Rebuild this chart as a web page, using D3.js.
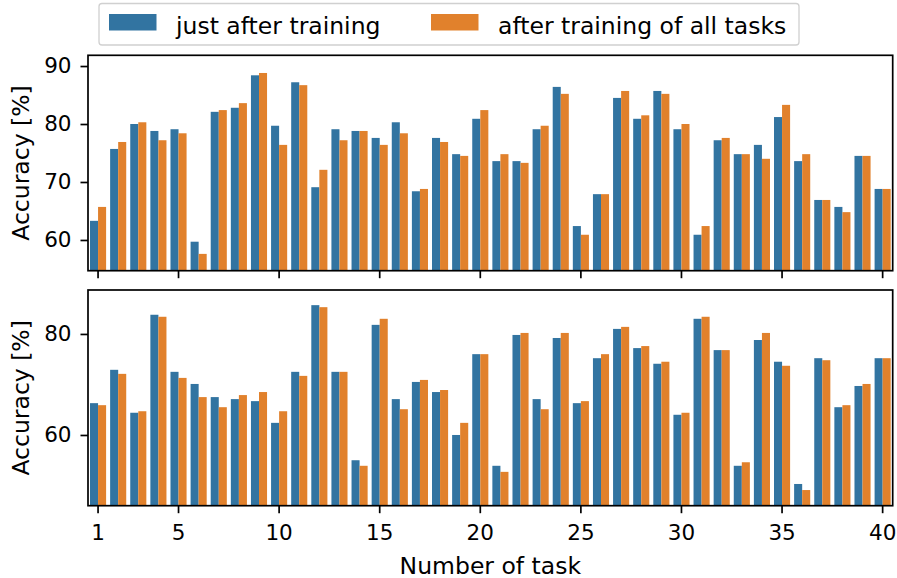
<!DOCTYPE html>
<html>
<head>
<meta charset="utf-8">
<script src="https://cdn.jsdelivr.net/npm/d3@7"></script>
<style>
  body { margin: 0; background: #fff; }
  svg { display: block; font-family: "DejaVu Sans", sans-serif; }
</style>
</head>
<body>
<script>
const width = 897
const height = 578

// task numbers
const tasks = [1,2,3,4,5,6,7,8,9,10,11,12,13,14,15,16,17,18,19,20,
  21,22,23,24,25,26,27,28,29,30,31,32,33,34,35,36,37,38,39,40]
const tickTasks = [1,5,10,15,20,25,30,35,40]
const series = ['just after training', 'after training of all tasks']
const colors = ['#3274a1', '#e1812c']

// upper panel
const topJust = [63.3,75.7,80.0,78.8,79.1,59.7,82.1,82.8,88.4,79.7,87.2,69.1,79.1,78.8,77.6,80.3,68.4,77.6,74.8,80.9,
  73.6,73.6,79.1,86.4,62.4,67.9,84.5,80.9,85.7,79.1,60.9,77.2,74.8,76.4,81.2,73.6,66.9,65.7,74.5,68.8]
const topAll = [65.7,76.9,80.3,77.2,78.4,57.6,82.4,83.6,88.8,76.4,86.7,72.1,77.2,78.8,76.4,78.4,68.8,76.9,74.5,82.4,
  74.8,73.3,79.7,85.2,60.9,67.9,85.7,81.5,85.2,80.0,62.4,77.6,74.8,74.0,83.3,74.8,66.9,64.8,74.5,68.8]
const topTicks = [60,70,80,90]

// lower panel
const botJust = [66.3,72.9,64.4,83.8,72.5,70.1,67.5,67.1,66.7,62.4,72.5,85.7,72.5,55.0,81.8,67.1,70.5,68.5,60.0,76.0,
  53.9,79.8,67.1,79.2,66.3,75.2,81.0,77.2,74.1,64.0,83.0,76.8,53.9,78.8,74.5,50.3,75.2,65.5,69.7,75.2]
const botAll = [65.9,72.1,64.7,83.4,71.3,67.5,65.5,67.9,68.5,64.7,71.7,85.3,72.5,53.9,83.0,65.1,70.9,68.9,62.4,76.0,
  52.7,80.2,65.1,80.2,66.7,76.0,81.4,77.6,74.5,64.4,83.4,76.8,54.6,80.2,73.7,49.1,74.8,65.9,70.1,75.2]
const botTicks = [60,80]

const left = 88, right = 892.7

const svg = d3.select('body').append('svg')
  .attr('width', width)
  .attr('height', height)

const x = d3.scaleBand()
  .domain(tasks)
  .range([left, right])
  .paddingInner(0.2)
  .paddingOuter(0.1)

const xs = d3.scaleBand()
  .domain([0, 1])
  .range([0, x.bandwidth()])

function panel(top, bottom, domain, ticks, just, all, showXLabels){
  const y = d3.scaleLinear().domain(domain).range([bottom, top])
  const g = svg.append('g')

  const rows = tasks.map((t, i) => ({task: t, vals: [just[i], all[i]]}))

  g.append('g')
    .selectAll('g')
    .data(rows)
    .enter().append('g')
      .attr('transform', d => `translate(${x(d.task)},0)`)
    .selectAll('rect')
    .data(d => d.vals)
    .enter().append('rect')
      .attr('x', (d, j) => xs(j))
      .attr('width', xs.bandwidth())
      .attr('y', d => y(d))
      .attr('height', d => y(domain[0]) - y(d))
      .attr('fill', (d, j) => colors[j])

  const yAxis = g.append('g')
    .attr('transform', `translate(${left},0)`)
    .call(d3.axisLeft(y).tickValues(ticks).tickSize(7.5).tickPadding(9))
  yAxis.select('.domain').remove()

  const xAxis = g.append('g')
    .attr('transform', `translate(0,${bottom})`)
    .call(d3.axisBottom(x).tickValues(tickTasks).tickSize(7.5).tickPadding(12)
      .tickFormat(showXLabels ? d => d : ''))
  xAxis.select('.domain').remove()

  g.selectAll('.tick line').attr('stroke', '#000').attr('stroke-width', 1.7)
  g.selectAll('.tick text').attr('font-size', 21.5).attr('fill', '#000')
    .attr('font-family', '"DejaVu Sans", sans-serif')

  g.append('rect')
    .attr('x', left).attr('y', top)
    .attr('width', right - left).attr('height', bottom - top)
    .attr('fill', 'none').attr('stroke', '#000').attr('stroke-width', 1.7)

  g.append('text')
    .attr('transform', `translate(28.5,${(top + bottom) / 2}) rotate(-90)`)
    .attr('text-anchor', 'middle')
    .attr('font-size', 23.5)
    .text('Accuracy [%]')
}

panel(55.3, 270.7, [54.7, 91.85], topTicks, topJust, topAll, false)
panel(290, 505.7, [46.0, 88.7], botTicks, botJust, botAll, true)

svg.append('text')
  .attr('x', (left + right) / 2)
  .attr('y', 573.5)
  .attr('text-anchor', 'middle')
  .attr('font-size', 23.5)
  .text('Number of task')

// legend
const legend = svg.append('g')
legend.append('rect')
  .attr('x', 99).attr('y', 3.5)
  .attr('width', 700).attr('height', 41.5)
  .attr('rx', 3)
  .attr('fill', '#fff').attr('fill-opacity', 0.8)
  .attr('stroke', '#d0d0d0').attr('stroke-width', 1.3)

const legendX = [109, 431]
legend.selectAll('g.item')
  .data(series)
  .enter().append('g')
    .attr('class', 'item')
    .attr('transform', (d, i) => `translate(${legendX[i]},0)`)
    .each(function(d, i){
      const it = d3.select(this)
      it.append('rect')
        .attr('x', 0).attr('y', 14)
        .attr('width', 47.5).attr('height', 16.5)
        .attr('fill', colors[i])
      it.append('text')
        .attr('x', 67).attr('y', 34)
        .attr('font-size', 23.5)
        .text(d)
    })
</script>
</body>
</html>
